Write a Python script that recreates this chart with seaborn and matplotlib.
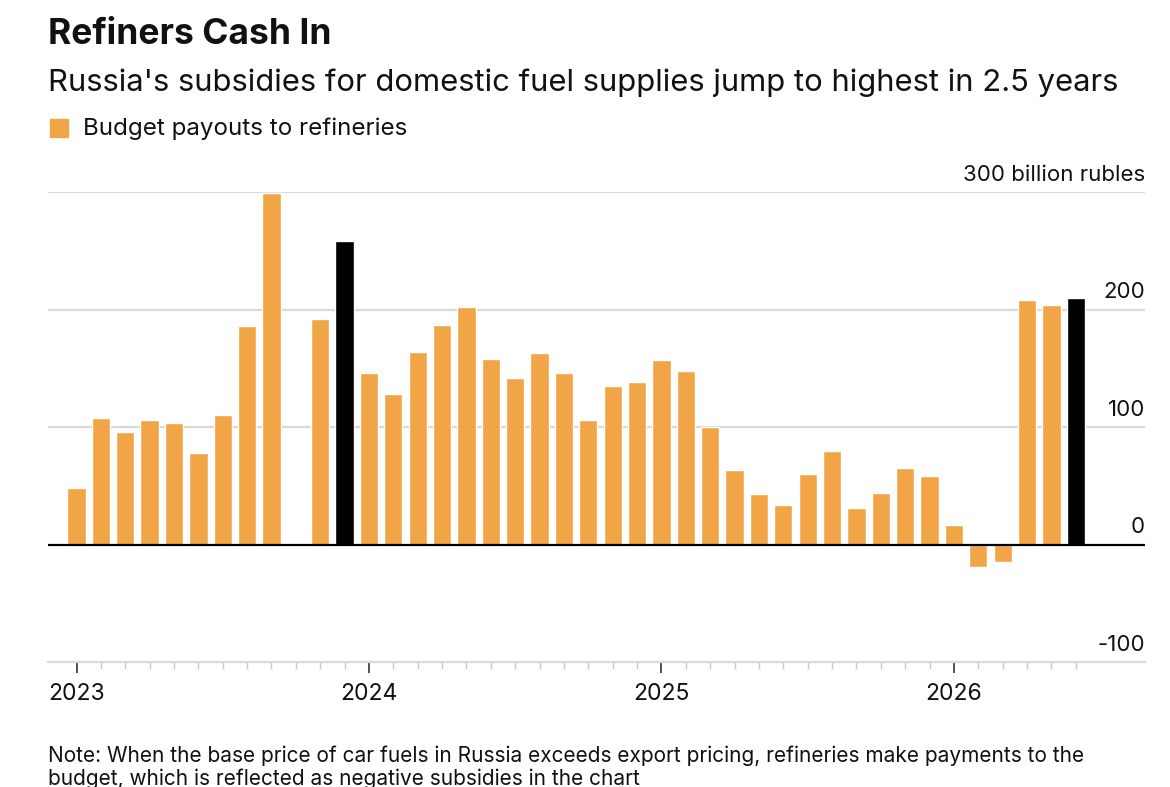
import matplotlib
matplotlib.use("Agg")
import matplotlib.pyplot as plt
from matplotlib.lines import Line2D
import seaborn as sns
import pandas as pd
import numpy as np

# monthly budget payouts to refineries, billion rubles (Jan 2023 .. Jun 2026)
months = pd.date_range("2023-01-01", "2026-06-01", freq="MS")
payouts = [48, 108, 96, 106, 103, 78, 110, 186, 299, np.nan, 192, 258,
           146, 128, 164, 187, 202, 158, 142, 163, 146, 106, 135, 138,
           157, 148, 100, 63, 43, 34, 60, 80, 31, 44, 65, 58,
           17, -19, -15, 208, 204, 210]
highlight_months = ["2023-12", "2026-06"]
year_labels = ["2023", "2024", "2025", "2026"]
y_labels = {300: "300 billion rubles", 200: "200", 100: "100", 0: "0", -100: "-100"}

ORANGE = "#F1A547"
GRID = "#d9d9d9"
TXT = "#111111"

df = pd.DataFrame({"month": months.strftime("%Y-%m"), "value": payouts})
df["kind"] = np.where(df["month"].isin(highlight_months), "latest", "normal")

sns.set_style("white")
plt.rcParams["font.family"] = ["Inter", "DejaVu Sans"]

W, H = 1170, 787
fig = plt.figure(figsize=(W / 100, H / 100), dpi=100)
ax = fig.add_axes([48 / W, 1 - 662 / H, (1145 - 48) / W, (662 - 192) / H])

for v in [100, 200, 300]:
    ax.axhline(v, color=GRID, lw=1.6, zorder=0)

sns.barplot(data=df, x="month", y="value", hue="kind", order=list(df["month"]),
            palette={"normal": ORANGE, "latest": "black"}, saturation=1,
            width=0.75, legend=False, ax=ax, zorder=2)
ax.axhline(0, color="black", lw=1.6, zorder=3)

ax.set_ylim(-100, 300)
ax.set_xlim(-1.17, 43.84)
ax.set_xlabel("")
ax.set_ylabel("")
ax.set_yticks([])

ax.set_xticks([0, 12, 24, 36])
ax.set_xticklabels(year_labels, fontsize=16.5, color=TXT)
ax.set_xticks(range(len(months)), minor=True)
ax.tick_params(axis="x", which="major", length=8, width=1.2, color="#333333", pad=7, bottom=True)
ax.tick_params(axis="x", which="minor", length=5, width=1.0, color="#c8c8c8", bottom=True)

for s in ["top", "right", "left"]:
    ax.spines[s].set_visible(False)
ax.spines["bottom"].set_color(GRID)
ax.spines["bottom"].set_linewidth(1.6)

for v, lab in y_labels.items():
    ax.annotate(lab, xy=(1, v), xycoords=("axes fraction", "data"),
                xytext=(0, 8), textcoords="offset points",
                ha="right", va="baseline", fontsize=16, color=TXT)

fig.text(48 / W, 1 - 34 / H, "Refiners Cash In", fontsize=25.5, weight="bold",
         color=TXT, va="center", ha="left")
fig.text(48 / W, 1 - 83 / H,
         "Russia's subsidies for domestic fuel supplies jump to highest in 2.5 years",
         fontsize=22.3, color=TXT, va="center", ha="left")
fig.add_artist(Line2D([59 / W], [1 - 128 / H], marker="s", markersize=12.5,
                      color=ORANGE, transform=fig.transFigure))
fig.text(83 / W, 1 - 129 / H, "Budget payouts to refineries", fontsize=17.4,
         color=TXT, va="center", ha="left")
fig.text(48 / W, 1 - 746 / H,
         "Note: When the base price of car fuels in Russia exceeds export pricing, "
         "refineries make payments to the\nbudget, which is reflected as negative "
         "subsidies in the chart",
         fontsize=15, color=TXT, va="top", ha="left", linespacing=1.15,
         transform=fig.transFigure)

fig.savefig("out.png", dpi=100, facecolor="white")
